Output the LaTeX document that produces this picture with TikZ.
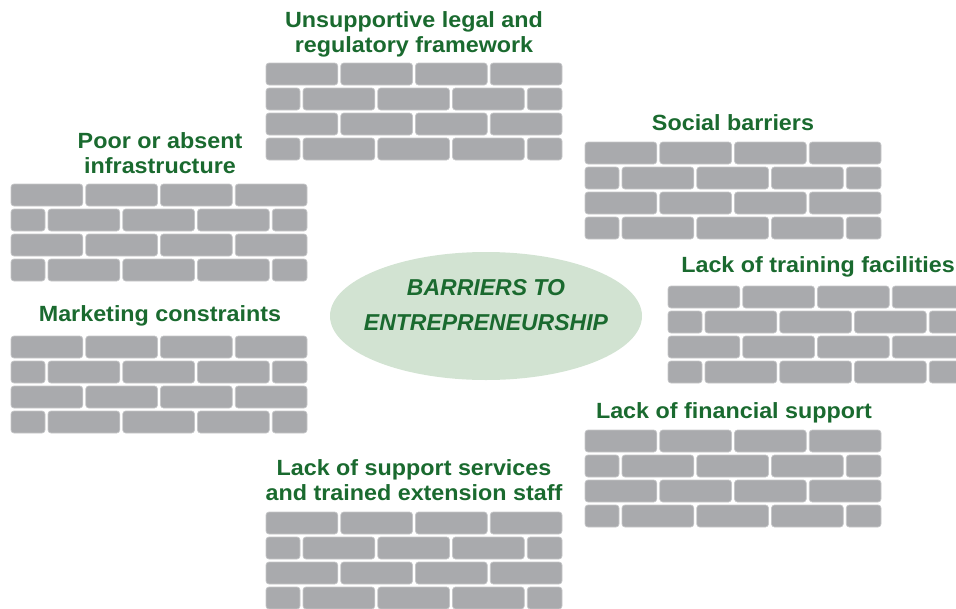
\documentclass[tikz,border=0pt]{standalone}
\usepackage{fontspec}
\setmainfont{Liberation Sans}
\newfontfamily\barrierfont[FakeStretch=1.06]{Liberation Sans}
\usetikzlibrary{shapes.geometric}

\definecolor{labelgreen}{HTML}{1A6A2F}
\definecolor{brickgray}{HTML}{A9AAAD}
\definecolor{brickedge}{HTML}{C6C7C9}
\definecolor{ovalgreen}{HTML}{D2E3D2}

\tikzset{
  brick/.style={fill=brickgray, draw=brickedge, line width=0.7pt, rounded corners=3pt},
  barrier/.style={text=labelgreen, align=center, inner sep=0pt,
    font=\barrierfont\fontsize{22}{25}\selectfont\bfseries},
  core/.style={ellipse, fill=ovalgreen, minimum width=312pt, minimum height=128pt, inner sep=0pt}
}

\newcommand{\brickwall}[2]{%
  \foreach \r in {0,2}{
    \foreach \c in {0,...,3}
      \path[brick] ({#1+74.75*\c},{#2+25*\r}) rectangle ++(71.75,22);
  }
  \foreach \r in {1,3}{
    \path[brick] ({#1},{#2+25*\r}) rectangle ++(34,22);
    \foreach \c in {0,1,2}
      \path[brick] ({#1+37+74.75*\c},{#2+25*\r}) rectangle ++(71.75,22);
    \path[brick] ({#1+261.25},{#2+25*\r}) rectangle ++(34.75,22);
  }
}

\begin{document}
\begin{tikzpicture}[x=1pt, y=-1pt]
    \useasboundingbox (0,0) rectangle (956,608);
    \clip (0,0) rectangle (956,608);
    \brickwall{266}{63}
    \brickwall{585}{142}
    \brickwall{11}{184}
    \brickwall{668}{286}
    \brickwall{11}{336}
    \brickwall{585}{430}
    \brickwall{266}{512}
    \node[barrier] at (414, 34) (legal)
      {Unsupportive legal and\\regulatory framework};
    \node[barrier] at (733, 122.5) (social)
      {Social barriers};
    \node[barrier] at (160, 153) (infra)
      {Poor or absent\\infrastructure};
    \node[barrier] at (818, 267) (training)
      {Lack of training facilities};
    \node[barrier] at (160, 316) (marketing)
      {Marketing constraints};
    \node[barrier] at (734, 413) (finance)
      {Lack of financial support};
    \node[barrier] at (414, 480) (services)
      {Lack of support services\\and trained extension staff};
    \node[core] at (486, 316) (barriers) {};
    \node[text=labelgreen, align=center, inner sep=0pt,
      font=\fontsize{23}{35}\selectfont\bfseries\itshape]
      at (486, 305) (title) {BARRIERS TO\\ENTREPRENEURSHIP};
  \end{tikzpicture}
\end{document}
